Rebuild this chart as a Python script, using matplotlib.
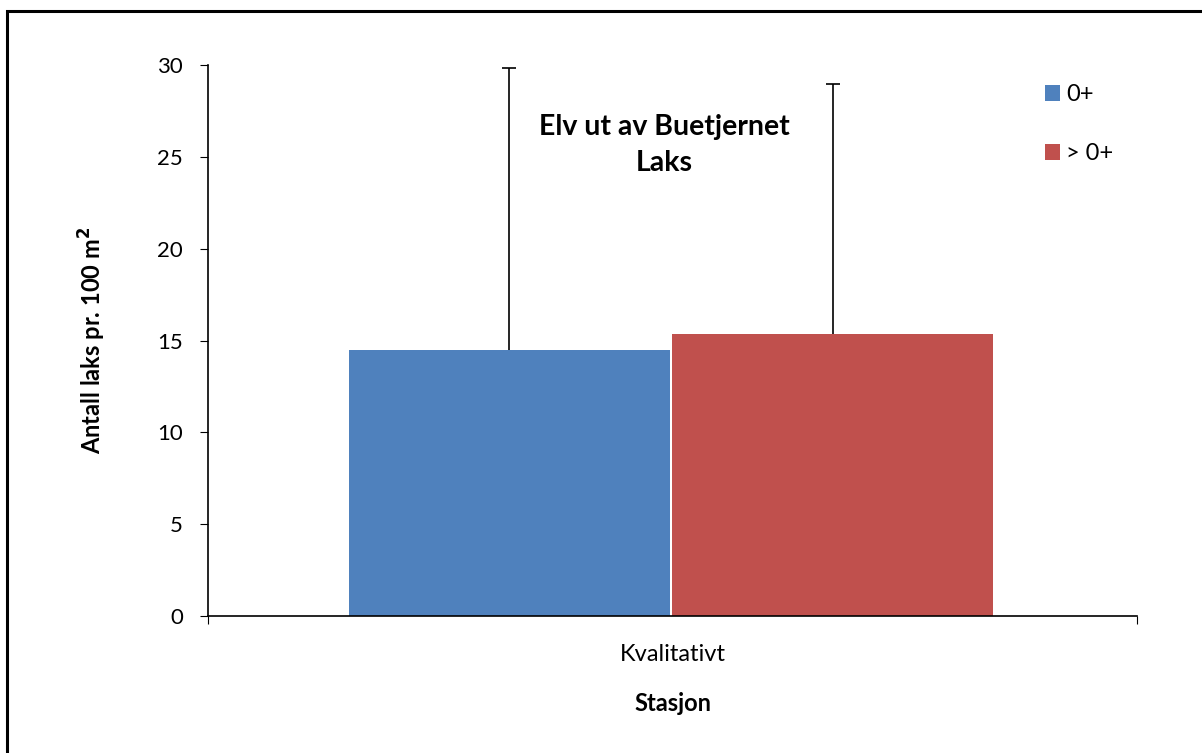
import matplotlib.pyplot as plt
from matplotlib.patches import Rectangle, Patch

# data
categories = ["Kvalitativt"]
series = ["0+", "> 0+"]
values = [14.5, 15.35]
errors_up = [15.35, 13.6]
colors = ["#4F81BD", "#C0504D"]

plt.rcParams['font.family'] = ['Lato', 'DejaVu Sans']

fig = plt.figure(figsize=(12.02, 7.53), dpi=100)
ax = fig.add_axes([0.1730, 0.1819, 0.7729, 0.7318])

# outer frame (right/bottom edges run off the picture)
fig.patches.append(Rectangle((7 / 1202, -0.05), 1.1, 1 - 11 / 753 + 0.05,
                             transform=fig.transFigure, fill=False,
                             edgecolor='black', linewidth=2.2))

width = 0.345
offsets = [-0.1755, 0.1725]
for i in range(len(series)):
    ax.bar(offsets[i], values[i], width=width, color=colors[i], linewidth=0)
    # upper error bar only, cap on top
    ax.errorbar(offsets[i], values[i], yerr=[[0], [errors_up[i]]],
                fmt='none', ecolor='black', elinewidth=1.2, capsize=0)
    ax.plot(offsets[i], values[i] + errors_up[i], marker='_', markersize=10,
            markeredgewidth=1.2, color='black')

ax.set_xlim(-0.5, 0.5)
ax.set_ylim(0, 30)
ax.set_yticks(range(0, 31, 5))
ax.tick_params(axis='y', direction='out', length=6, labelsize=16, pad=12)

ax.set_xticks([-0.5, 0.5])
ax.set_xticklabels(["", ""])
ax.set_xticks([0], minor=True)
ax.set_xticklabels(categories, minor=True)
ax.tick_params(axis='x', which='major', direction='out', length=6)
ax.tick_params(axis='x', which='minor', length=0, labelsize=17, pad=20)

for s in ['top', 'right']:
    ax.spines[s].set_visible(False)
ax.spines['left'].set_linewidth(1.2)
ax.spines['bottom'].set_linewidth(1.2)

ax.set_ylabel("Antall laks pr. 100 m$^{\\mathbf{2}}$", fontsize=17, fontweight='bold')
ax.yaxis.set_label_coords(-0.108, 0.5)
ax.set_xlabel("Stasjon", fontsize=17, fontweight='bold')
ax.xaxis.set_label_coords(0.5, -0.138)

ax.text(0.491, 0.855, "Elv ut av Buetjernet\nLaks", transform=ax.transAxes,
        ha='center', va='center', fontsize=20.5, fontweight='bold', linespacing=1.45)

handles = [Patch(facecolor=c, label=s) for c, s in zip(colors, series)]
ax.legend(handles=handles, loc='upper left', bbox_to_anchor=(0.901, 0.965),
          frameon=False, fontsize=17, handlelength=0.65, handleheight=0.65,
          handletextpad=0.25, labelspacing=1.6, borderaxespad=0,
          borderpad=0)

fig.savefig("out.png", dpi=100)
